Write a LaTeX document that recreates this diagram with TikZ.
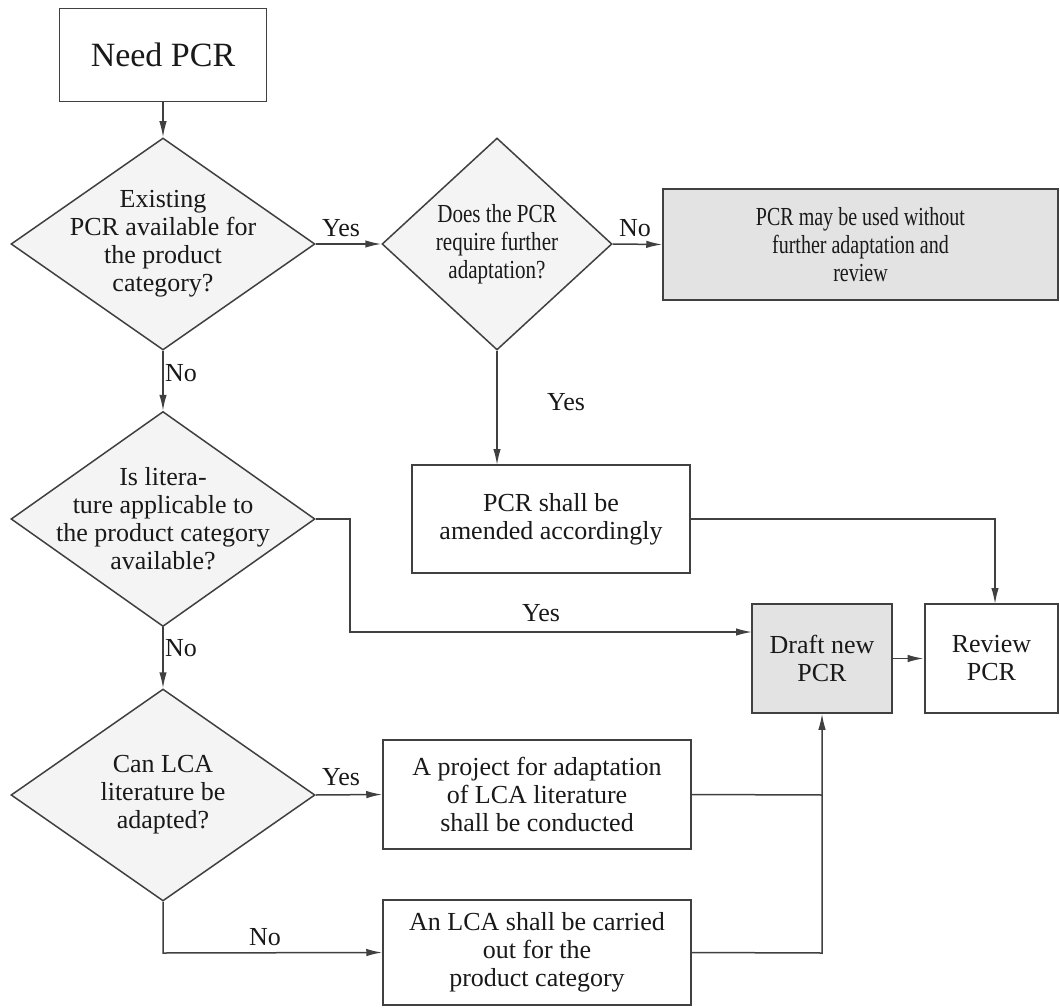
\documentclass[tikz,border=0pt]{standalone}
\usepackage{fontspec}
\setmainfont{Liberation Serif}
\newfontfamily\condA[FakeStretch=0.81]{Liberation Serif}
\newfontfamily\condB[FakeStretch=0.77]{Liberation Serif}
\usetikzlibrary{shapes.geometric,arrows.meta}
\begin{document}
\begin{tikzpicture}[x=1pt,y=-1pt,
  line/.style={draw=black!75,line width=1.5pt},
  arr/.style={line,-{Latex[length=16pt,width=7.5pt]}},
  txt/.style={font=\fontsize{26}{28}\selectfont,text=black!90,align=center,inner sep=0pt},
  lbl/.style={font=\fontsize{26}{28}\selectfont,text=black!90,inner sep=0pt},
  dec/.style={diamond,draw=black!75,line width=1.5pt,fill=gray!9,inner sep=0pt},
  procbox/.style={rectangle,draw=black!75,line width=1.5pt,fill=white,inner sep=0pt},
  graybox/.style={procbox,fill=gray!22}]
\useasboundingbox (0,0) rectangle (1060,1008);
% nodes
\node[procbox,minimum width=207pt,minimum height=93pt] (need) at (163,55) {};
\node[txt,font=\fontsize{34}{40}\selectfont] (needt) at (need.center) {Need PCR};
\node[dec,minimum width=304pt,minimum height=212pt] (d1) at (163,244) {};
\node[txt] (d1t) at (d1.center) {Existing\\PCR available for\\the product\\category?};
\node[dec,minimum width=230pt,minimum height=212pt] (d2) at (497,244) {};
\node[txt,font=\fontsize{26}{28}\condA] (d2t) at (d2.center) {Does the PCR\\require further\\adaptation?};
\node[graybox,minimum width=395pt,minimum height=111pt] (use) at (860.5,244.5) {};
\node[txt,font=\fontsize{26}{28}\condB] (uset) at (use.center) {PCR may be used without\\further adaptation and\\review};
\node[procbox,minimum width=278pt,minimum height=108pt] (amend) at (551,519) {};
\node[txt] (amendt) at (amend.center) {PCR shall be\\amended accordingly};
\node[dec,minimum width=304pt,minimum height=215pt] (d3) at (163,519) {};
\node[txt] (d3t) at (d3.center) {Is litera-\\ture applicable to\\the product category\\available?};
\node[dec,minimum width=304pt,minimum height=212pt] (d4) at (163,795) {};
\node[txt] (d4t) at (d4.center) {Can LCA\\literature be\\adapted?};
\node[procbox,minimum width=308pt,minimum height=109pt] (proj) at (537,794.5) {};
\node[txt] (projt) at (proj.center) {A project for adaptation\\of LCA literature\\shall be conducted};
\node[procbox,minimum width=308pt,minimum height=105pt] (lca) at (537,952.5) {};
\node[txt] (lcat) at (lca.center) {An LCA shall be carried\\out for the\\product category};
\node[graybox,minimum width=140pt,minimum height=109pt] (draft) at (822,658.5) {};
\node[txt] (draftt) at (draft.center) {Draft new\\PCR};
\node[procbox,line width=2.8pt,minimum width=133pt,minimum height=109pt] (review) at (991.5,658.5) {};
\node[txt] (reviewt) at (review.center) {Review\\PCR};
% helper coordinates
\coordinate (c1) at (350,519);
\coordinate (c2) at (350,632);
\coordinate (c2e) at (752,632);
\coordinate (c3) at (822,795);
\coordinate (c4) at (822,953);
\coordinate (c5) at (163,953);
\coordinate (c6) at (995,519);
\coordinate (c6e) at (995,604);
\coordinate (c7) at (497,465);
% connectors
\draw[arr] (need.south) -- (d1.north);
\draw[arr] (d1.east) -- (d2.west);
\draw[arr] (d2.east) -- (use.west);
\draw[arr] (d2.south) -- (c7);
\draw[arr] (amend.east) -- (c6) -- (c6e);
\draw[arr] (d1.south) -- (d3.north);
\draw[arr] (d3.east) -- (c1) -- (c2) -- (c2e);
\draw[arr] (d3.south) -- (d4.north);
\draw[arr] (d4.east) -- (proj.west);
\draw[arr] (d4.south) -- (c5) -- (lca.west);
\draw[line] (proj.east) -- (c3);
\draw[arr] (lca.east) -- (c4) -- (draft.south);
\draw[arr] (draft.east) -- (review.west);
% labels
\node[lbl] (l1) at (341,228) {Yes};
\node[lbl] (l2) at (635,228) {No};
\node[lbl] (l3) at (566,402) {Yes};
\node[lbl] (l4) at (181,373) {No};
\node[lbl] (l5) at (541,613) {Yes};
\node[lbl] (l6) at (181,648) {No};
\node[lbl] (l7) at (341,777) {Yes};
\node[lbl] (l8) at (265,937) {No};
\end{tikzpicture}
\end{document}
